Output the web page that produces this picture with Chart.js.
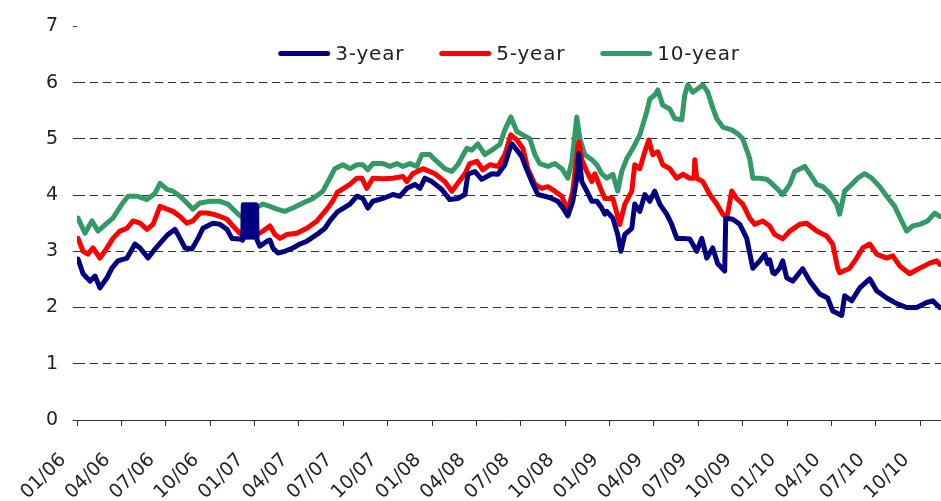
<!DOCTYPE html>
<html>
<head>
<meta charset="utf-8">
<script src="https://cdn.jsdelivr.net/npm/chart.js@4.4.1/dist/chart.umd.min.js"></script>
<style>
  html, body { margin: 0; padding: 0; background: #ffffff; }
  #wrap { width: 941px; height: 501px; position: relative; }
</style>
</head>
<body>
<div id="wrap"><canvas id="c"></canvas></div>
<script>
// x values are months since the start of January 2006
const seriesNames = ['3-year', '5-year', '10-year'];
const quarterLabels = ['01/06','04/06','07/06','10/06','01/07','04/07','07/07','10/07','01/08','04/08',
                       '07/08','10/08','01/09','04/09','07/09','10/09','01/10','04/10','07/10','10/10'];
const quarterMonths = [0,3,6,9,12,15,18,21,24,27,30,33,36,39,42,45,48,51,54,57];
const yTicks = [0,1,2,3,4,5,6,7];

const t3 = [0.07,0.41,0.88,1.22,1.55,2.03,2.36,2.77,3.38,3.92,4.26,4.8,5.27,5.74,6.15,6.62,6.82,7.3,7.77,8.18,
  8.51,9.19,9.66,10.14,10.47,11.01,11.2,
  11.24,11.3,11.36,11.42,11.48,11.54,11.6,11.66,11.72,11.78,11.84,11.9,11.96,12.02,12.08,12.14,
  12.17,12.36,12.84,
  13.04,13.24,13.58,14.05,14.59,15.07,15.54,16.22,16.76,17.09,17.6,18.45,18.92,19.32,19.66,20.0,20.68,21.35,21.82,22.3,
  22.84,23.18,23.51,23.99,24.66,25.2,25.74,26.22,26.42,26.89,27.36,28.04,28.45,28.92,29.26,29.39,29.73,30.07,30.27,30.74,
  31.15,31.62,32.09,32.5,32.84,33.18,33.51,33.78,33.92,34.12,34.46,34.8,35.14,35.47,35.68,35.81,36.22,36.55,36.76,37.03,
  37.5,37.7,38.04,38.38,38.72,39.05,39.39,39.86,40.2,40.54,40.95,41.42,41.89,42.23,42.57,42.97,43.31,43.78,43.85,44.32,
  44.8,45.27,45.68,46.15,46.49,46.69,46.82,47.03,47.16,47.5,47.7,47.97,48.38,49.05,49.53,50.2,50.74,51.08,51.69,51.89,
  52.36,52.91,53.58,54.05,54.73,55.41,56.08,56.76,57.43,57.84,58.31];
const v3 = [2.86,2.6,2.47,2.56,2.35,2.53,2.7,2.83,2.88,3.13,3.06,2.88,3.04,3.18,3.3,3.39,3.3,3.06,3.04,3.23,
  3.41,3.5,3.48,3.39,3.23,3.22,3.2,
  3.83,3.25,3.83,3.25,3.83,3.25,3.83,3.25,3.83,3.25,3.83,3.25,3.83,3.25,3.83,3.8,
  3.2,3.09,3.18,
  3.2,3.06,2.97,3.0,3.06,3.13,3.18,3.3,3.41,3.54,3.7,3.84,3.98,3.94,3.77,3.89,3.94,4.01,3.98,4.12,
  4.19,4.12,4.3,4.24,4.1,3.92,3.94,4.01,4.37,4.42,4.28,4.38,4.37,4.54,4.83,4.91,4.8,4.68,4.54,4.24,
  4.01,3.98,3.94,3.89,3.77,3.63,3.89,4.3,4.74,4.24,4.07,3.89,3.89,3.77,3.66,3.71,3.59,3.3,3.0,3.3,
  3.41,3.84,3.71,4.01,3.89,4.07,3.84,3.66,3.48,3.23,3.23,3.22,3.0,3.23,2.88,3.06,2.78,2.65,3.59,3.57,
  3.48,3.23,2.7,2.83,2.95,2.78,2.85,2.62,2.6,2.7,2.83,2.53,2.47,2.69,2.47,2.24,2.17,1.94,1.86,2.21,
  2.12,2.35,2.51,2.3,2.17,2.07,2.0,2.0,2.09,2.12,2.0];

const t5 = [0.07,0.41,0.74,1.08,1.55,2.03,2.43,2.91,3.38,3.78,4.26,4.73,5.14,5.61,6.08,6.49,6.96,7.43,7.84,8.31,
  8.78,9.19,9.66,10.14,10.54,11.01,11.55,12.16,12.57,13.04,13.38,13.72,14.19,14.86,15.54,16.22,16.89,17.3,17.6,18.45,
  18.92,19.26,19.59,20.0,20.68,21.35,22.03,22.3,22.7,23.38,24.19,24.86,25.34,25.74,26.22,26.55,27.03,27.43,27.91,28.45,
  28.92,29.32,29.73,30.14,30.47,30.95,31.42,31.82,32.3,32.77,33.18,33.51,33.85,33.92,34.12,34.46,34.8,35.0,35.34,35.68,
  36.22,36.69,37.03,37.5,37.7,38.04,38.38,38.65,38.92,39.26,39.59,40.07,40.54,40.95,41.42,41.7,41.76,41.89,42.3,42.77,
  43.24,43.65,43.92,44.26,44.59,45.0,45.47,45.81,46.35,46.82,47.16,47.7,48.18,48.85,49.32,50.0,50.68,51.08,51.42,51.55,
  52.23,52.7,53.11,53.58,54.05,54.73,55.14,55.61,56.28,56.96,57.64,58.11,58.31];
const v5 = [3.23,3.0,2.95,3.06,2.88,3.06,3.23,3.36,3.41,3.54,3.5,3.39,3.48,3.8,3.75,3.71,3.62,3.5,3.54,3.68,
  3.68,3.66,3.62,3.57,3.45,3.32,3.32,3.3,3.36,3.45,3.3,3.23,3.3,3.32,3.41,3.54,3.75,3.9,4.05,4.19,
  4.3,4.3,4.12,4.3,4.29,4.3,4.33,4.24,4.38,4.47,4.38,4.24,4.07,4.21,4.38,4.56,4.6,4.45,4.54,4.51,
  4.72,5.07,4.98,4.83,4.47,4.19,4.12,4.15,4.07,3.98,3.71,4.07,4.83,4.95,4.63,4.42,4.24,4.38,4.15,3.94,
  3.94,3.48,3.84,4.07,4.54,4.47,4.77,4.98,4.72,4.77,4.54,4.47,4.3,4.37,4.3,4.3,4.63,4.3,4.24,4.01,
  3.84,3.66,3.59,4.07,3.94,3.84,3.59,3.48,3.54,3.45,3.3,3.22,3.36,3.48,3.5,3.36,3.27,3.13,2.7,2.62,
  2.7,2.88,3.06,3.13,2.95,2.88,2.92,2.74,2.6,2.7,2.79,2.83,2.77];

const t10 = [0.07,0.54,1.01,1.42,2.03,2.43,3.04,3.45,4.05,4.73,5.27,5.61,6.08,6.49,6.96,7.43,7.84,8.31,8.99,9.66,
  10.2,10.81,11.22,11.89,12.57,13.04,13.51,14.05,14.59,15.27,15.95,16.62,17.09,17.43,17.97,18.45,18.92,19.32,19.66,20.0,
  20.68,21.15,21.62,22.03,22.5,22.97,23.31,23.85,24.19,24.86,25.34,25.74,26.22,26.35,26.69,27.09,27.57,28.04,28.58,28.92,
  29.32,29.73,30.14,30.61,30.95,31.28,31.82,32.3,32.77,33.18,33.45,33.65,33.78,33.99,34.32,34.8,35.14,35.47,35.81,36.22,
  36.55,36.82,37.16,37.57,38.04,38.51,38.72,39.05,39.26,39.59,40.07,40.41,40.88,41.08,41.28,41.62,41.96,42.3,42.64,42.91,
  43.24,43.65,44.26,44.66,45.0,45.47,45.68,46.15,46.62,46.82,47.3,47.7,48.18,48.51,49.19,49.53,50.0,50.41,50.88,51.35,
  51.55,51.89,52.36,52.77,53.24,53.72,54.26,54.73,55.27,55.74,56.08,56.49,56.96,57.5,57.97,58.31];
const v10 = [3.59,3.32,3.54,3.36,3.5,3.59,3.84,3.98,3.98,3.92,4.03,4.21,4.1,4.07,3.98,3.86,3.75,3.86,3.89,3.89,
  3.84,3.68,3.59,3.75,3.84,3.8,3.75,3.71,3.77,3.86,3.94,4.07,4.3,4.47,4.54,4.47,4.54,4.54,4.45,4.56,
  4.56,4.51,4.56,4.51,4.56,4.51,4.72,4.72,4.63,4.47,4.42,4.54,4.77,4.83,4.8,4.91,4.72,4.8,4.9,5.16,
  5.39,5.13,5.07,5.0,4.72,4.56,4.51,4.56,4.47,4.3,4.6,5.07,5.39,5.0,4.72,4.63,4.54,4.38,4.3,4.37,
  4.07,4.42,4.65,4.83,5.07,5.48,5.71,5.78,5.87,5.6,5.53,5.36,5.34,5.78,5.96,5.83,5.89,5.96,5.83,5.6,
  5.36,5.21,5.16,5.09,5.0,4.65,4.3,4.3,4.28,4.24,4.12,4.01,4.19,4.42,4.51,4.38,4.19,4.15,4.03,3.84,
  3.66,4.07,4.19,4.3,4.38,4.3,4.15,3.98,3.8,3.54,3.36,3.45,3.48,3.54,3.68,3.62];

const colors = ['#000080', '#FF0000', '#339966'];
const pts = (t, v) => t.map((x, i) => ({ x: x, y: v[i] }));

const FONT = 'DejaVu Sans';

// Legend drawn inside the plot area, as in the reference
const insideLegend = {
  id: 'insideLegend',
  afterDraw(chart) {
    const ctx = chart.ctx;
    const area = chart.chartArea;
    ctx.save();
    ctx.font = '20px "' + FONT + '"';
    if ('letterSpacing' in ctx) ctx.letterSpacing = '0.8px';
    ctx.textBaseline = 'middle';
    ctx.textAlign = 'left';
    const boxW = 52, gap = 5, sep = 35;
    const items = chart.data.datasets.map(ds => ({
      label: ds.label, color: ds.borderColor, w: ctx.measureText(ds.label).width
    }));
    let total = sep * (items.length - 1);
    items.forEach(it => { total += boxW + gap + it.w; });
    let x = (area.left + area.right) / 2 - total / 2;
    const y = area.top + 27;
    items.forEach(it => {
      ctx.strokeStyle = it.color;
      ctx.lineWidth = 5;
      ctx.lineCap = 'round';
      ctx.beginPath();
      ctx.moveTo(x + 2.5, y);
      ctx.lineTo(x + boxW - 2.5, y);
      ctx.stroke();
      ctx.fillStyle = '#222';
      ctx.fillText(it.label, x + boxW + gap, y + 1);
      x += boxW + gap + it.w + sep;
    });
    ctx.restore();
  }
};

new Chart(document.getElementById('c'), {
  type: 'line',
  data: {
    datasets: [
      { label: seriesNames[0], data: pts(t3, v3), borderColor: colors[0], backgroundColor: colors[0] },
      { label: seriesNames[1], data: pts(t5, v5), borderColor: colors[1], backgroundColor: colors[1] },
      { label: seriesNames[2], data: pts(t10, v10), borderColor: colors[2], backgroundColor: colors[2] }
    ]
  },
  options: {
    responsive: true,
    maintainAspectRatio: false,
    animation: false,
    events: [],
    layout: { padding: { top: 24, right: 0, left: 0, bottom: 0 } },
    elements: {
      point: { radius: 0 },
      line: { borderWidth: 5, tension: 0, borderJoinStyle: 'round', borderCapStyle: 'round' }
    },
    plugins: {
      tooltip: { enabled: false },
      legend: { display: false }
    },
    scales: {
      x: {
        type: 'linear',
        min: 0,
        max: 58.4,
        afterBuildTicks: (scale) => { scale.ticks = quarterMonths.map(v => ({ value: v })); },
        afterFit: (scale) => { scale.height = 81; scale.paddingRight = 0; },
        grid: { drawOnChartArea: false, drawTicks: true, tickLength: 6, color: '#333', tickColor: '#333' },
        border: { display: true, color: '#333', width: 1 },
        ticks: {
          autoSkip: false,
          minRotation: 45,
          maxRotation: 45,
          padding: 23,
          labelOffset: -14,
          color: '#222',
          font: { family: FONT, size: 19 },
          callback: (val, idx) => quarterLabels[idx]
        }
      },
      y: {
        min: 0,
        max: 7,
        afterBuildTicks: (scale) => { scale.ticks = yTicks.map(v => ({ value: v })); },
        afterFit: (scale) => { scale.width = 77; },
        grid: {
          drawTicks: true,
          tickLength: 4,
          color: (ctx) => (ctx.tick && (ctx.tick.value === 7 || ctx.tick.value === 0)) ? 'rgba(0,0,0,0)' : '#333',
          tickColor: '#333',
          tickBorderDash: [],
          borderDash: [8, 5],
          lineWidth: 1
        },
        border: { display: false, dash: [8, 5] },
        ticks: {
          padding: 15,
          color: '#222',
          font: { family: FONT, size: 19 }
        }
      }
    }
  },
  plugins: [insideLegend]
});
</script>
</body>
</html>
